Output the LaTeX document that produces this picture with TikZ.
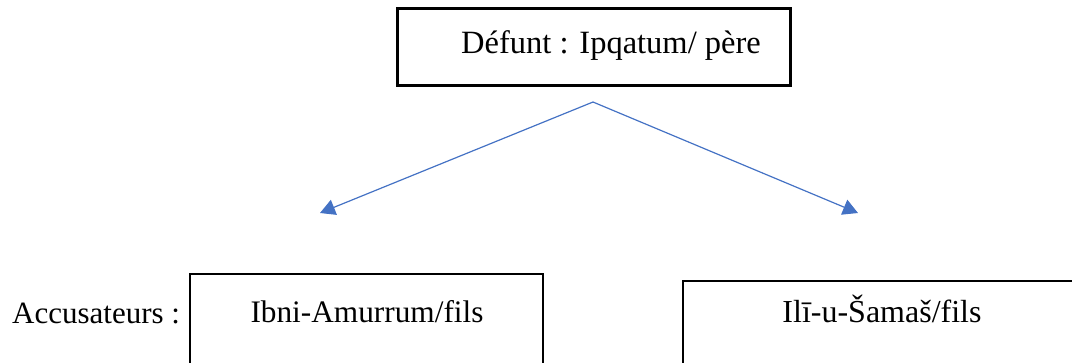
\documentclass[tikz,border=0pt]{standalone}
\usepackage{fontspec}
\setmainfont{Liberation Serif}
\usetikzlibrary{arrows.meta}
\definecolor{arrowblue}{HTML}{4472C4}
\begin{document}
\begin{tikzpicture}[x=1pt,y=1pt,
  box/.style={draw=black,line width=2.7pt,inner sep=0pt,fill=none},
  lbl/.style={inner sep=0pt,anchor=base},
  conn/.style={draw=arrowblue,line width=1.2pt,-{Triangle[length=15pt,width=16pt]}}]
\useasboundingbox (0,0) rectangle (1072,-362);
% boxes
\node[box,minimum width=393,minimum height=77] (top) at (594,-47) {};
\node[lbl,font=\fontsize{32.5}{38}\selectfont] (toptext) at (611,-53) {Défunt : Ipqatum/ père};
\node[box,minimum width=353,minimum height=130] (lbox) at (366.5,-339) {};
\node[lbl,font=\fontsize{31.3}{36}\selectfont] (ltext) at (367,-322) {Ibni-Amurrum/fils};
\node[box,minimum width=390,minimum height=130] (rbox) at (878,-346) {};
\node[lbl,font=\fontsize{32}{38}\selectfont] (rtext) at (882,-322) {Ilī-u-Šamaš/fils};
\node[lbl,anchor=base west,font=\fontsize{31}{36}\selectfont] (acc) at (12,-323) {Accusateurs :};
% connectors
\coordinate (apex) at (593,-102);
\coordinate (ltip) at (320,-213);
\coordinate (rtip) at (858,-213);
\draw[conn] (apex) -- (ltip);
\draw[conn] (apex) -- (rtip);
\end{tikzpicture}
\end{document}
